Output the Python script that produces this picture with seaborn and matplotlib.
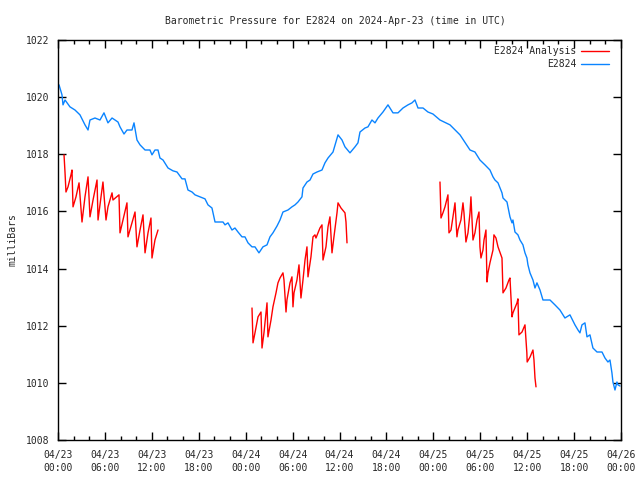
import numpy as np
import pandas as pd
import matplotlib
matplotlib.use("Agg")
import matplotlib.pyplot as plt
from matplotlib.lines import Line2D
import seaborn as sns

# ---- data (hours since 2024-04-23 00:00 UTC, millibars) ----
obs_hours = [0.13, 0.51, 0.64, 0.90, 1.53, 2.17, 2.81, 3.45, 3.84, 4.09, 4.73, 5.37, 5.88, 6.39, 6.91,
             7.67, 7.93, 8.44, 8.82, 9.46, 9.72, 10.10, 10.49, 11.13, 11.76, 12.02, 12.40, 12.79, 13.04,
             13.43, 14.07, 14.71, 15.22, 15.86, 16.24, 16.62, 17.14, 17.52, 18.16, 18.80, 19.18, 19.69,
             20.08, 20.72, 21.10, 21.36, 21.74, 22.25, 22.63, 23.02, 23.53, 23.91, 24.30, 24.81, 25.19,
             25.70, 26.21, 26.73, 27.11, 27.49, 28.01, 28.39, 28.77, 29.41, 29.92, 30.31, 30.69, 31.20,
             31.33, 31.84, 32.23, 32.61, 33.12, 33.76, 34.14, 34.53, 35.17, 35.81, 36.32, 36.70, 37.34,
             37.98, 38.36, 38.62, 39.26, 39.64, 40.15, 40.54, 40.92, 41.56, 42.20, 42.84, 43.48, 44.12,
             44.76, 45.27, 45.65, 46.04, 46.68, 47.31, 47.95, 48.85, 50.13, 51.41, 52.69, 53.32, 53.96,
             54.60, 55.24, 55.63, 55.88, 56.27, 56.78, 56.91, 57.42, 57.54, 57.80, 58.06, 58.18, 58.44,
             58.82, 59.08, 59.46, 59.72, 59.97, 60.10, 60.36, 60.74, 61.00, 61.25, 61.64, 62.02, 62.92,
             63.55, 64.19, 64.83, 65.47, 66.11, 66.50, 66.75, 67.01, 67.39, 67.65, 68.03, 68.41, 68.93,
             69.57, 69.95, 70.33, 70.59, 70.84, 70.97, 71.23, 71.48, 71.61, 71.87]
obs_mbar = [1020.43, 1020.08, 1019.73, 1019.90, 1019.66, 1019.55, 1019.38, 1019.03, 1018.85, 1019.20,
            1019.27, 1019.20, 1019.45, 1019.10, 1019.27, 1019.13, 1018.96, 1018.71, 1018.85, 1018.85,
            1019.10, 1018.50, 1018.33, 1018.15, 1018.15, 1017.98, 1018.15, 1018.15, 1017.87, 1017.80,
            1017.52, 1017.42, 1017.38, 1017.14, 1017.14, 1016.75, 1016.68, 1016.58, 1016.51, 1016.44,
            1016.23, 1016.12, 1015.63, 1015.63, 1015.63, 1015.53, 1015.60, 1015.35, 1015.42, 1015.28,
            1015.11, 1015.11, 1014.90, 1014.76, 1014.76, 1014.55, 1014.76, 1014.83, 1015.11, 1015.25,
            1015.49, 1015.70, 1015.98, 1016.05, 1016.16, 1016.23, 1016.33, 1016.51, 1016.82, 1017.03,
            1017.10, 1017.31, 1017.38, 1017.45, 1017.70, 1017.87, 1018.08, 1018.68, 1018.50, 1018.26,
            1018.05, 1018.26, 1018.40, 1018.78, 1018.92, 1018.96, 1019.20, 1019.10, 1019.27, 1019.48,
            1019.73, 1019.45, 1019.45, 1019.62, 1019.73, 1019.80, 1019.90, 1019.62, 1019.62, 1019.48,
            1019.41, 1019.20, 1019.03, 1018.68, 1018.15, 1018.08, 1017.80, 1017.63, 1017.45, 1017.21,
            1017.10, 1017.00, 1016.65, 1016.47, 1016.33, 1016.16, 1015.81, 1015.60, 1015.70, 1015.28,
            1015.18, 1015.00, 1014.83, 1014.55, 1014.37, 1014.13, 1013.85, 1013.60, 1013.32, 1013.50,
            1013.25, 1012.90, 1012.90, 1012.73, 1012.55, 1012.27, 1012.38, 1012.03, 1011.85, 1011.75,
            1012.03, 1012.10, 1011.61, 1011.68, 1011.22, 1011.08, 1011.08, 1010.87, 1010.73, 1010.80,
            1010.35, 1010.03, 1009.75, 1010.03, 1009.93, 1009.89]

ana1_hours = [0.77, 0.90, 1.02, 1.28, 1.66, 1.79, 1.92, 2.30, 2.69, 3.07, 3.45, 3.84, 4.09, 4.48, 4.99,
              5.12, 5.50, 5.75, 6.14, 6.39, 6.91, 7.03, 7.80, 7.93, 8.31, 8.82, 8.95, 9.46, 9.85, 10.10,
              10.49, 10.87, 11.13, 11.51, 11.89, 12.02, 12.40, 12.79]
ana1_mbar = [1017.98, 1017.35, 1016.68, 1016.86, 1017.28, 1017.45, 1016.16, 1016.51, 1017.00, 1015.63,
             1016.51, 1017.21, 1015.81, 1016.40, 1017.10, 1015.70, 1016.51, 1017.03, 1015.70, 1016.16,
             1016.65, 1016.40, 1016.58, 1015.25, 1015.70, 1016.30, 1015.11, 1015.60, 1015.98, 1014.76,
             1015.35, 1015.88, 1014.55, 1015.25, 1015.77, 1014.37, 1015.00, 1015.35]

ana2_hours = [24.81, 24.94, 25.19, 25.58, 25.96, 26.09, 26.34, 26.73, 26.85, 27.24, 27.49, 27.88, 28.13,
              28.39, 28.77, 28.90, 29.16, 29.28, 29.67, 29.92, 30.05, 30.18, 30.56, 30.82, 31.07, 31.33,
              31.59, 31.84, 31.97, 32.35, 32.61, 32.86, 32.99, 33.50, 33.76, 33.89, 34.27, 34.53, 34.78,
              35.04, 35.29, 35.68, 35.81, 36.19, 36.70, 36.83, 36.96]
ana2_mbar = [1012.62, 1011.40, 1011.75, 1012.31, 1012.48, 1011.22, 1011.75, 1012.80, 1011.61, 1012.20,
             1012.66, 1013.15, 1013.50, 1013.67, 1013.85, 1013.60, 1012.48, 1012.90, 1013.50, 1013.71,
             1012.66, 1013.15, 1013.60, 1014.13, 1012.97, 1013.60, 1014.30, 1014.76, 1013.71, 1014.41,
             1015.11, 1015.18, 1015.07, 1015.42, 1015.53, 1014.30, 1014.76, 1015.46, 1015.81, 1014.55,
             1015.11, 1015.95, 1016.30, 1016.12, 1015.95, 1015.63, 1014.90]

ana3_hours = [48.85, 48.98, 49.23, 49.49, 49.87, 50.00, 50.26, 50.51, 50.77, 51.02, 51.15, 51.53, 51.79,
              51.92, 52.17, 52.43, 52.69, 52.81, 53.07, 53.32, 53.58, 53.84, 53.96, 54.09, 54.35, 54.48,
              54.73, 54.86, 54.99, 55.24, 55.63, 55.75, 56.01, 56.27, 56.78, 56.91, 57.29, 57.67, 57.80,
              58.06, 58.18, 58.70, 58.82, 58.95, 59.34, 59.72, 59.96, 60.00, 60.36, 60.74, 60.87, 61.00,
              61.13]
ana3_mbar = [1017.03, 1015.77, 1015.95, 1016.16, 1016.58, 1015.25, 1015.35, 1015.81, 1016.30, 1015.11,
             1015.35, 1015.70, 1016.30, 1015.95, 1014.93, 1015.25, 1015.95, 1016.51, 1015.00, 1015.25,
             1015.70, 1015.98, 1014.76, 1014.37, 1014.65, 1015.00, 1015.35, 1013.53, 1013.85, 1014.20,
             1014.65, 1015.18, 1015.07, 1014.76, 1014.37, 1013.15, 1013.32, 1013.60, 1013.67, 1012.31,
             1012.45, 1012.80, 1012.94, 1011.68, 1011.78, 1012.03, 1011.05, 1010.73, 1010.90, 1011.15,
             1010.80, 1010.17, 1009.86]

tick_hours = [0, 6, 12, 18, 24, 30, 36, 42, 48, 54, 60, 66, 72]
tick_labels = ["04/23\n00:00", "04/23\n06:00", "04/23\n12:00", "04/23\n18:00",
               "04/24\n00:00", "04/24\n06:00", "04/24\n12:00", "04/24\n18:00",
               "04/25\n00:00", "04/25\n06:00", "04/25\n12:00", "04/25\n18:00",
               "04/26\n00:00"]
y_ticks = [1008, 1010, 1012, 1014, 1016, 1018, 1020, 1022]

obs = pd.DataFrame({"hours": obs_hours, "mbar": obs_mbar})
ana = pd.concat([
    pd.DataFrame({"hours": ana1_hours, "mbar": ana1_mbar, "seg": 1}),
    pd.DataFrame({"hours": ana2_hours, "mbar": ana2_mbar, "seg": 2}),
    pd.DataFrame({"hours": ana3_hours, "mbar": ana3_mbar, "seg": 3}),
], ignore_index=True)

sns.set_style("white")
FONT = "DejaVu Sans Mono"
plt.rcParams["font.family"] = [FONT]
FS = 7.0

fig = plt.figure(figsize=(6.4, 4.8), dpi=100)
ax = fig.add_axes([58 / 640, 40 / 480, (621 - 58) / 640, 400 / 480])

RED = "#ff0000"
BLUE = "#0a84ff"
sns.lineplot(data=ana, x="hours", y="mbar", units="seg", estimator=None, sort=False,
             color=RED, lw=1.0, ax=ax)
sns.lineplot(data=obs, x="hours", y="mbar", estimator=None, sort=False,
             color=BLUE, lw=1.0, ax=ax)

ax.set_xlim(0, 72)
ax.set_ylim(1008, 1022)
ax.set_xticks(tick_hours)
ax.set_xticklabels(tick_labels, fontsize=FS, linespacing=1.35)
ax.set_xticks(np.arange(0, 73, 2), minor=True)
ax.set_yticks(y_ticks)
ax.set_yticklabels([str(v) for v in y_ticks], fontsize=FS)
ax.tick_params(axis="both", which="major", direction="in", length=6, width=1,
               top=True, right=True, bottom=True, left=True, color="black")
ax.tick_params(axis="x", which="minor", direction="in", length=3, width=1,
               top=True, bottom=True, color="black")
ax.tick_params(axis="x", which="major", pad=7)
ax.tick_params(axis="y", which="major", pad=6)
for s in ax.spines.values():
    s.set_visible(True)
    s.set_color("black")
    s.set_linewidth(1.0)
ax.set_xlabel("")
ax.set_ylabel("milliBars", fontsize=FS)
ax.yaxis.set_label_coords(-(58 - 18) / 563, 0.5)

fig.text(335 / 640, 1 - 20.5 / 480, "Barometric Pressure for E2824 on 2024-Apr-23 (time in UTC)",
         ha="center", va="center", fontsize=FS)

handles = [Line2D([], [], color=RED, lw=1), Line2D([], [], color=BLUE, lw=1)]
leg = ax.legend(handles, ["E2824 Analysis", "E2824"], loc="upper right", frameon=False,
                markerfirst=False, fontsize=FS, handlelength=2.9, handletextpad=0.45,
                labelspacing=0.3, borderpad=0, borderaxespad=0,
                bbox_to_anchor=(1 - 12 / 563, 1 - 6 / 400))
for t in leg.get_texts():
    t.set_ha("right")
leg._legend_box.align = "right"

fig.savefig("out.png", dpi=100)
